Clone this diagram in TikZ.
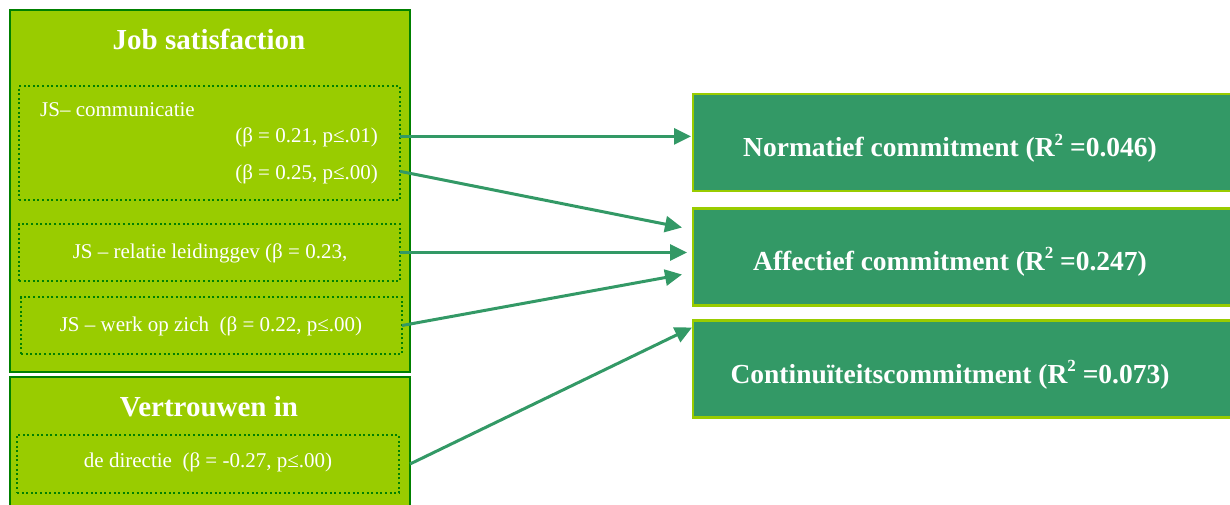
\documentclass[tikz,border=0pt]{standalone}
\usepackage{fontspec}
\setmainfont{Liberation Serif}
\usetikzlibrary{arrows.meta,positioning,calc}
\definecolor{grass}{RGB}{153,204,0}
\definecolor{forest}{RGB}{0,128,0}
\definecolor{sea}{RGB}{51,153,102}
\newcommand{\rsq}{R\raisebox{0.95ex}{\fontsize{17}{17}\selectfont 2}}
\tikzset{
  >={Triangle[length=17pt,width=16pt]},
  group/.style={draw=forest,fill=grass,line width=2.5pt,anchor=north west,
    minimum width=400pt,minimum height=#1,inner sep=0pt,outer sep=0pt},
  item/.style={draw=forest,line width=2pt,dash pattern=on 2pt off 2.6pt,
    anchor=north west,minimum width=381pt,minimum height=#1,inner sep=0pt,outer sep=0pt},
  outcome/.style={draw=grass,fill=sea,line width=2.5pt,anchor=north west,
    minimum width=560pt,minimum height=97pt,inner sep=0pt,outer sep=0pt},
  head/.style={text=white,font=\fontsize{29}{33}\selectfont\bfseries,inner sep=0pt,anchor=base},
  big/.style={text=white,font=\fontsize{27.5}{32}\selectfont\bfseries,inner sep=0pt,anchor=base},
  lab/.style={text=white,font=\fontsize{21}{24}\selectfont,inner sep=0pt,anchor=base},
  link/.style={->,draw=sea,line width=3pt},
}
\begin{document}
\begin{tikzpicture}[x=1pt,y=-1pt]
  \useasboundingbox (0,0) rectangle (1230,505);
  \clip (0,0) rectangle (1230,505);
  % predictors
  \node[group=362pt] (js) at (10,10) {};
  \node[group=140pt] (vt) at (10,377) {};
  \node[item=114pt] (comm) at (19,86) {};
  \node[item=57pt] (rel) at (19,224) {};
  \node[item=57pt] (werk) at (21,297) {};
  \node[item=58pt,minimum width=382pt] (dir) at (17,435) {};
  \node[head] (jstitle) at (209,50) {Job satisfaction};
  \node[head] (vttitle) at (209,416.5) {Vertrouwen in};
  \node[lab,anchor=base west] (commtxt) at (40,116.5) {JS– communicatie};
  \node[lab,anchor=base east] (b1) at (378,142.5) {(β = 0.21, p≤.01)};
  \node[lab,anchor=base east] (b2) at (378,179.5) {(β = 0.25, p≤.00)};
  \node[lab] (reltxt) at (210,258) {JS – relatie leidinggev (β = 0.23,};
  \node[lab] (werktxt) at (211,331) {JS – werk op zich~ (β = 0.22, p≤.00)};
  \node[lab] (dirtxt) at (208,467) {de directie~ (β = -0.27, p≤.00)};
  % outcomes
  \node[outcome] (norm) at (693,94) {};
  \node[outcome] (aff) at (693,208.5) {};
  \node[outcome] (cont) at (693,320.5) {};
  \node[big] (normtxt) at (950,157) {Normatief commitment (\rsq\ =0.046)};
  \node[big] (afftxt) at (950,270.5) {Affectief commitment (\rsq\ =0.247)};
  \node[big] (conttxt) at (950,383) {Continuïteitscommitment (\rsq\ =0.073)};
  % paths
  \draw[link,shorten >=2pt] ([yshift=1pt]b1.east -| comm.east) -- ([yshift=1pt]b1.east -| norm.west);
  \draw[link] ([yshift=3pt]b2.east -| comm.east) -- ($(aff.north west)+(-11,19)$);
  \draw[link,shorten >=6pt] (rel.east) -- (rel.east -| aff.west);
  \draw[link] (werk.east) -- ($(aff.north west)+(-11,66)$);
  \draw[link] (dir.east -| vt.east) -- ($(cont.north west)+(-1,7)$);
\end{tikzpicture}
\end{document}
